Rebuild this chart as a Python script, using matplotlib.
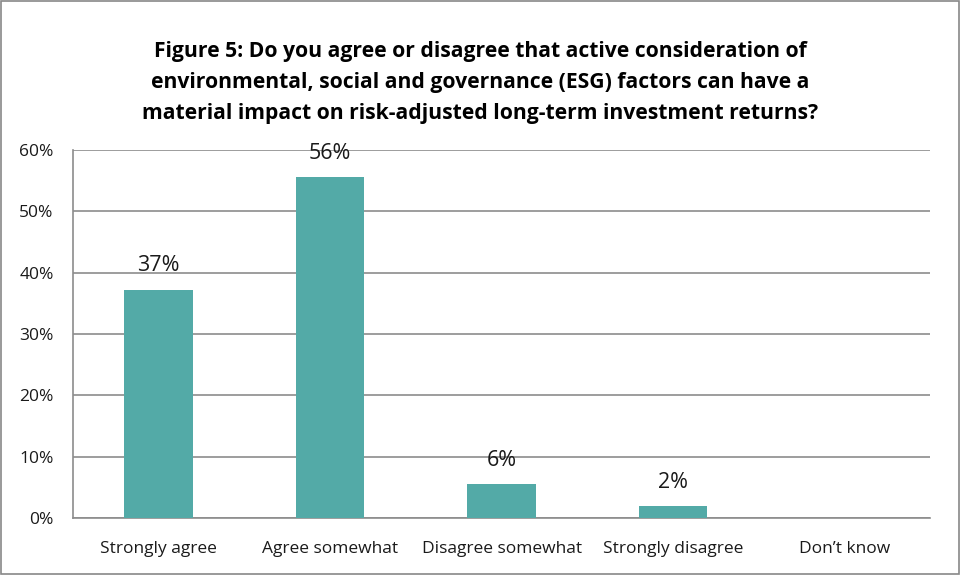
import matplotlib.pyplot as plt
from matplotlib.patches import Rectangle

plt.rcParams['font.family'] = ['Open Sans', 'DejaVu Sans']

categories = ['Strongly agree', 'Agree somewhat', 'Disagree somewhat',
              'Strongly disagree', 'Don\u2019t know']
shares = [37.2, 55.6, 5.5, 1.9, 0.0]
ytick_values = [0, 10, 20, 30, 40, 50, 60]
title = ('Figure 5: Do you agree or disagree that active consideration of\n'
         'environmental, social and governance (ESG) factors can have a\n'
         'material impact on risk-adjusted long-term investment returns?')

bar_color = '#53aaa7'
grid_color = '#8c8c8c'

fig = plt.figure(figsize=(9.61, 5.75), dpi=100)
ax = fig.add_axes([0.076, 0.099, 0.892, 0.640])

x = range(len(categories))
bars = ax.bar(x, shares, width=0.4, color=bar_color, zorder=3)

for rect, v in zip(bars, shares):
    if v <= 0:
        continue
    ax.text(rect.get_x() + rect.get_width() / 2, v + 2.2, '%d%%' % round(v),
            ha='center', va='bottom', fontsize=15.5, color='#1a1a1a', zorder=4)

ax.set_xlim(-0.5, len(categories) - 0.5)
ax.set_ylim(0, 60)
ax.set_yticks(ytick_values)
ax.set_yticklabels(['%d%%' % t for t in ytick_values])
ax.set_xticks(list(x))
ax.set_xticklabels(categories)
ax.tick_params(axis='both', length=0, labelsize=12.5, colors='#1a1a1a')
ax.tick_params(axis='x', pad=16.5)
ax.tick_params(axis='y', pad=14)

ax.grid(axis='y', color=grid_color, linewidth=1.2, zorder=0)
for side in ['top', 'right']:
    ax.spines[side].set_visible(False)
ax.spines['left'].set_color(grid_color)
ax.spines['bottom'].set_color(grid_color)
ax.spines['left'].set_linewidth(1.2)
ax.spines['bottom'].set_linewidth(1.2)

fig.text(0.5, 0.857, title, ha='center', va='center', fontsize=15.2,
         fontweight='bold', linespacing=1.62, color='#000000')

# thin frame around the whole chart
fig.patches.append(Rectangle((0.001, 0.002), 0.997, 0.996, transform=fig.transFigure,
                             fill=False, edgecolor='#888888', linewidth=1.2))

fig.savefig('out.png', dpi=100)
